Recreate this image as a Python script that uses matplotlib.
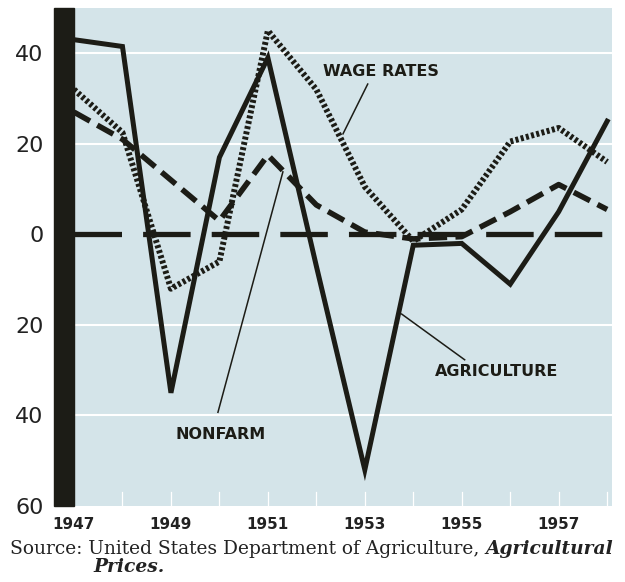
import numpy as np
import matplotlib
matplotlib.use('Agg')
import matplotlib.pyplot as plt
from matplotlib.patches import Rectangle

# datos (variacion porcentual)
anios = [1947, 1948, 1949, 1950, 1951, 1952, 1953, 1954, 1955, 1956, 1957, 1958]
agricultura = [43, 41.5, -35, 17, 39, -7, -52, -2.4, -2, -11, 5, 25]
salarios = [32, 22.5, -12, -6, 45, 32, 10.5, -1.5, 5.5, 20.5, 23.5, 16]
no_agricola = [27, 21, 12, 3, 17.5, 6.5, 0.5, -1, -0.5, 5, 11, 5.5]

yticks = [40, 20, 0, -20, -40, -60]
xticks = [1947, 1949, 1951, 1953, 1955, 1957]

negro = '#1c1c16'
fondo = '#d4e4e9'

fig = plt.figure(figsize=(6.25, 5.82), dpi=100)
ax = fig.add_axes([74/625, 76/582, 538/625, 498/582])
ax.set_facecolor(fondo)
for s in ax.spines.values():
    s.set_visible(False)

# barra negra a la izquierda
ax.add_patch(Rectangle((-20/538, 0), 20/538, 1, transform=ax.transAxes,
                       color=negro, clip_on=False, zorder=5))

# grilla blanca
for v in [40, 20, -20, -40]:
    ax.axhline(v, color='white', lw=1.5, zorder=1)
# marcas blancas abajo
for a in range(1948, 1959):
    ax.plot([a, a], [-60, -57], color='white', lw=0.9, zorder=1)

# linea de cero
ax.plot([1947, 1958.1], [0, 0], color=negro, lw=3.8, dashes=(9, 4), zorder=2,
        solid_capstyle='butt', dash_capstyle='butt')

ax.plot(anios, agricultura, color=negro, lw=3.6, zorder=4, solid_joinstyle='miter')
ax.plot(anios, salarios, color=negro, lw=4.3, dashes=(0.5, 0.4), zorder=3,
        dash_capstyle='butt')
ax.plot(anios, no_agricola, color=negro, lw=4.0, dashes=(3.3, 1.5), zorder=3,
        dash_capstyle='butt')

# etiquetas
fl = dict(fontsize=11.5, fontweight='bold', color=negro, ha='center', va='center',
          family='DejaVu Sans', zorder=6)
ax.text(1953.33, 36, 'WAGE RATES', **fl)
ax.plot([1953.06, 1952.55], [33.2, 22.2], color=negro, lw=1.1, zorder=6)
ax.text(1950.03, -44.2, 'NONFARM', **fl)
ax.plot([1949.97, 1951.31], [-39.3, 13.8], color=negro, lw=1.1, zorder=6)
ax.text(1955.72, -30.3, 'AGRICULTURE', **fl)
ax.plot([1955.06, 1953.76], [-27.7, -17.6], color=negro, lw=1.1, zorder=6)

ax.set_xlim(1947, 1958.1)
ax.set_ylim(-60, 50)
ax.set_yticks(yticks)
ax.set_yticklabels([str(abs(v)) for v in yticks], fontsize=16, color='#222222')
ax.set_xticks(xticks)
ax.set_xticklabels([str(v) for v in xticks], fontsize=11, fontweight='bold',
                   color='#222222')
ax.tick_params(axis='y', length=0, pad=22)
ax.tick_params(axis='x', length=0, pad=8)

t1 = fig.text(10/625, 1 - 549/582, 'Source: United States Department of Agriculture, ',
              family='DejaVu Serif', fontsize=13.4, va='center', ha='left', color='#222222')
ax.annotate('Agricultural', xy=(1, 0.5), xycoords=t1, va='center', ha='left',
            family='DejaVu Serif', fontsize=13.4, fontweight='bold', style='italic',
            color='#222222')
fig.text(93/625, 1 - 567/582, 'Prices.', family='DejaVu Serif', fontsize=13.4,
         fontweight='bold', style='italic', va='center', ha='left', color='#222222')

plt.savefig('out.png', dpi=100)
